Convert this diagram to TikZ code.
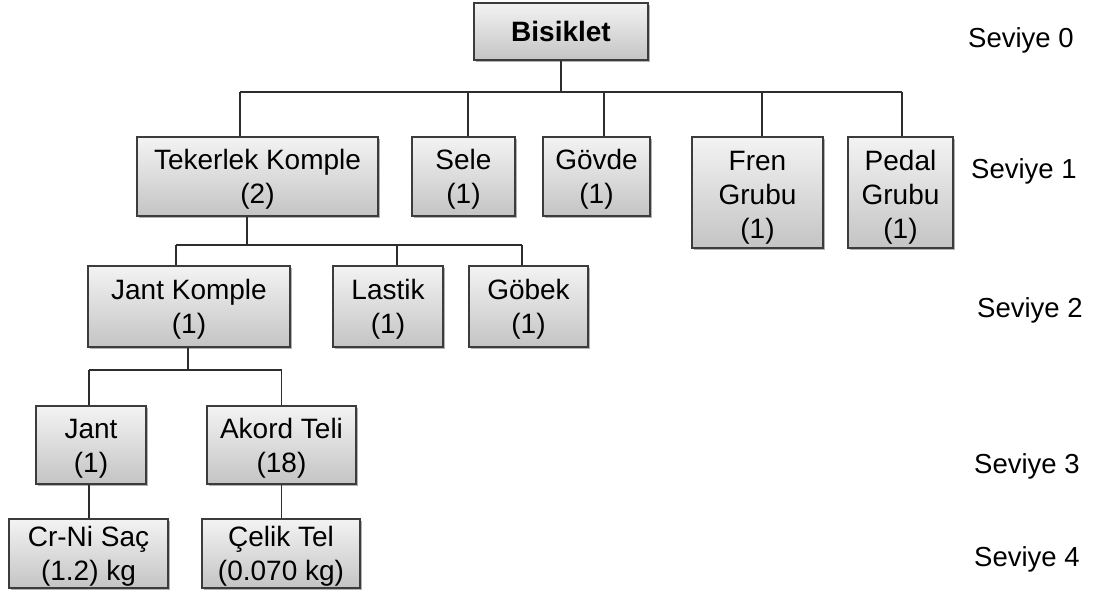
\documentclass[tikz,border=0pt]{standalone}
\usepackage{fontspec}
\setmainfont{Liberation Sans}
\usetikzlibrary{shadows}
\definecolor{boxtop}{RGB}{243,243,243}
\definecolor{boxbot}{RGB}{196,196,196}
\definecolor{boxline}{RGB}{60,60,60}
\definecolor{wirecol}{RGB}{45,45,45}
% a taller first line lowers a label slightly inside its box
\newcommand{\lowtwo}{\rule{0pt}{26pt}}
\newcommand{\lowthree}{\rule{0pt}{30pt}}
\tikzset{
  part/.style={draw=boxline, line width=1.4pt, top color=boxtop, bottom color=boxbot,
    align=center, inner sep=0pt, font=\fontsize{28}{34}\selectfont,
    drop shadow={shadow xshift=1.5pt, shadow yshift=-1.5pt, opacity=0.3, fill=black}},
  wire/.style={draw=wirecol, line width=1.4pt},
  level/.style={anchor=west, inner sep=0pt, font=\fontsize{27.5}{33}\selectfont}
}
\begin{document}
\begin{tikzpicture}[x=1pt, y=-1pt]
\useasboundingbox (0,0) rectangle (1094,597);

% level 0
\node[part, minimum width=174pt, minimum height=57pt] (bis) at (561,31.5) {\textbf{Bisiklet}};

% level 1
\node[part, minimum width=241pt, minimum height=79pt] (tek) at (257.5,176.5) {\lowtwo Tekerlek Komple\\(2)};
\node[part, minimum width=103pt, minimum height=79pt] (sele) at (463.5,176.5) {\lowtwo Sele\\(1)};
\node[part, minimum width=107pt, minimum height=79pt] (govde) at (596.5,176.5) {\lowtwo Gövde\\(1)};
\node[part, minimum width=131pt, minimum height=111pt] (fren) at (757.5,192.5) {\lowthree Fren\\Grubu\\(1)};
\node[part, minimum width=105pt, minimum height=111pt] (pedal) at (900.5,192.5) {\lowthree Pedal\\Grubu\\(1)};

% level 2
\node[part, minimum width=202pt, minimum height=81pt] (jk) at (189,306.5) {\lowtwo Jant Komple\\(1)};
\node[part, minimum width=110pt, minimum height=81pt] (lastik) at (388,306.5) {\lowtwo Lastik\\(1)};
\node[part, minimum width=119pt, minimum height=81pt] (gobek) at (528.5,306.5) {\lowtwo Göbek\\(1)};

% level 3
\node[part, minimum width=110pt, minimum height=78pt] (jant) at (91,445) {\lowtwo Jant\\(1)};
\node[part, minimum width=149pt, minimum height=78pt] (akord) at (281.5,445) {\lowtwo Akord Teli\\(18)};

% level 4
\node[part, minimum width=159pt, minimum height=69pt] (crni) at (88.5,553.5) {\lowtwo Cr-Ni Saç\\(1.2) kg};
\node[part, minimum width=158pt, minimum height=69pt] (celik) at (281,553.5) {\lowtwo Çelik Tel\\(0.070 kg)};

% level labels
\node[level] (s0) at (968,40) {Seviye 0};
\node[level] (s1) at (971,171) {Seviye 1};
\node[level] (s2) at (977,310) {Seviye 2};
\node[level] (s3) at (974,466) {Seviye 3};
\node[level] (s4) at (974,559) {Seviye 4};

% bus lines
\coordinate (b1) at (561,92);
\coordinate (b2) at (247,245);
\coordinate (b3) at (188,370);

% Bisiklet -> level 1
\draw[wire] (bis.south) -- (b1);
\draw[wire] ([xshift=-17.5pt]tek.north |- b1) -- ([xshift=1.5pt]pedal.north |- b1);
\draw[wire] ([xshift=-17.5pt]tek.north) -- ([xshift=-17.5pt]tek.north |- b1);
\draw[wire] ([xshift=4.5pt]sele.north) -- ([xshift=4.5pt]sele.north |- b1);
\draw[wire] ([xshift=7.5pt]govde.north) -- ([xshift=7.5pt]govde.north |- b1);
\draw[wire] ([xshift=4.5pt]fren.north) -- ([xshift=4.5pt]fren.north |- b1);
\draw[wire] ([xshift=1.5pt]pedal.north) -- ([xshift=1.5pt]pedal.north |- b1);

% Tekerlek Komple -> level 2
\draw[wire] ([xshift=-10.5pt]tek.south) -- ([xshift=-10.5pt]tek.south |- b2);
\draw[wire] ([xshift=-13pt]jk.north |- b2) -- ([xshift=-6.5pt]gobek.north |- b2);
\draw[wire] ([xshift=-13pt]jk.north) -- ([xshift=-13pt]jk.north |- b2);
\draw[wire] ([xshift=9pt]lastik.north) -- ([xshift=9pt]lastik.north |- b2);
\draw[wire] ([xshift=-6.5pt]gobek.north) -- ([xshift=-6.5pt]gobek.north |- b2);

% Jant Komple -> level 3
\draw[wire] ([xshift=-1pt]jk.south) -- ([xshift=-1pt]jk.south |- b3);
\draw[wire] ([xshift=-2pt]jant.north |- b3) -- (akord.north |- b3);
\draw[wire] ([xshift=-2pt]jant.north) -- ([xshift=-2pt]jant.north |- b3);
\draw[wire] (akord.north) -- (akord.north |- b3);

% level 3 -> level 4
\draw[wire] ([xshift=-2pt]jant.south) -- ([xshift=-2pt]jant.south |- crni.north);
\draw[wire] (akord.south) -- (akord.south |- celik.north);
\end{tikzpicture}
\end{document}
